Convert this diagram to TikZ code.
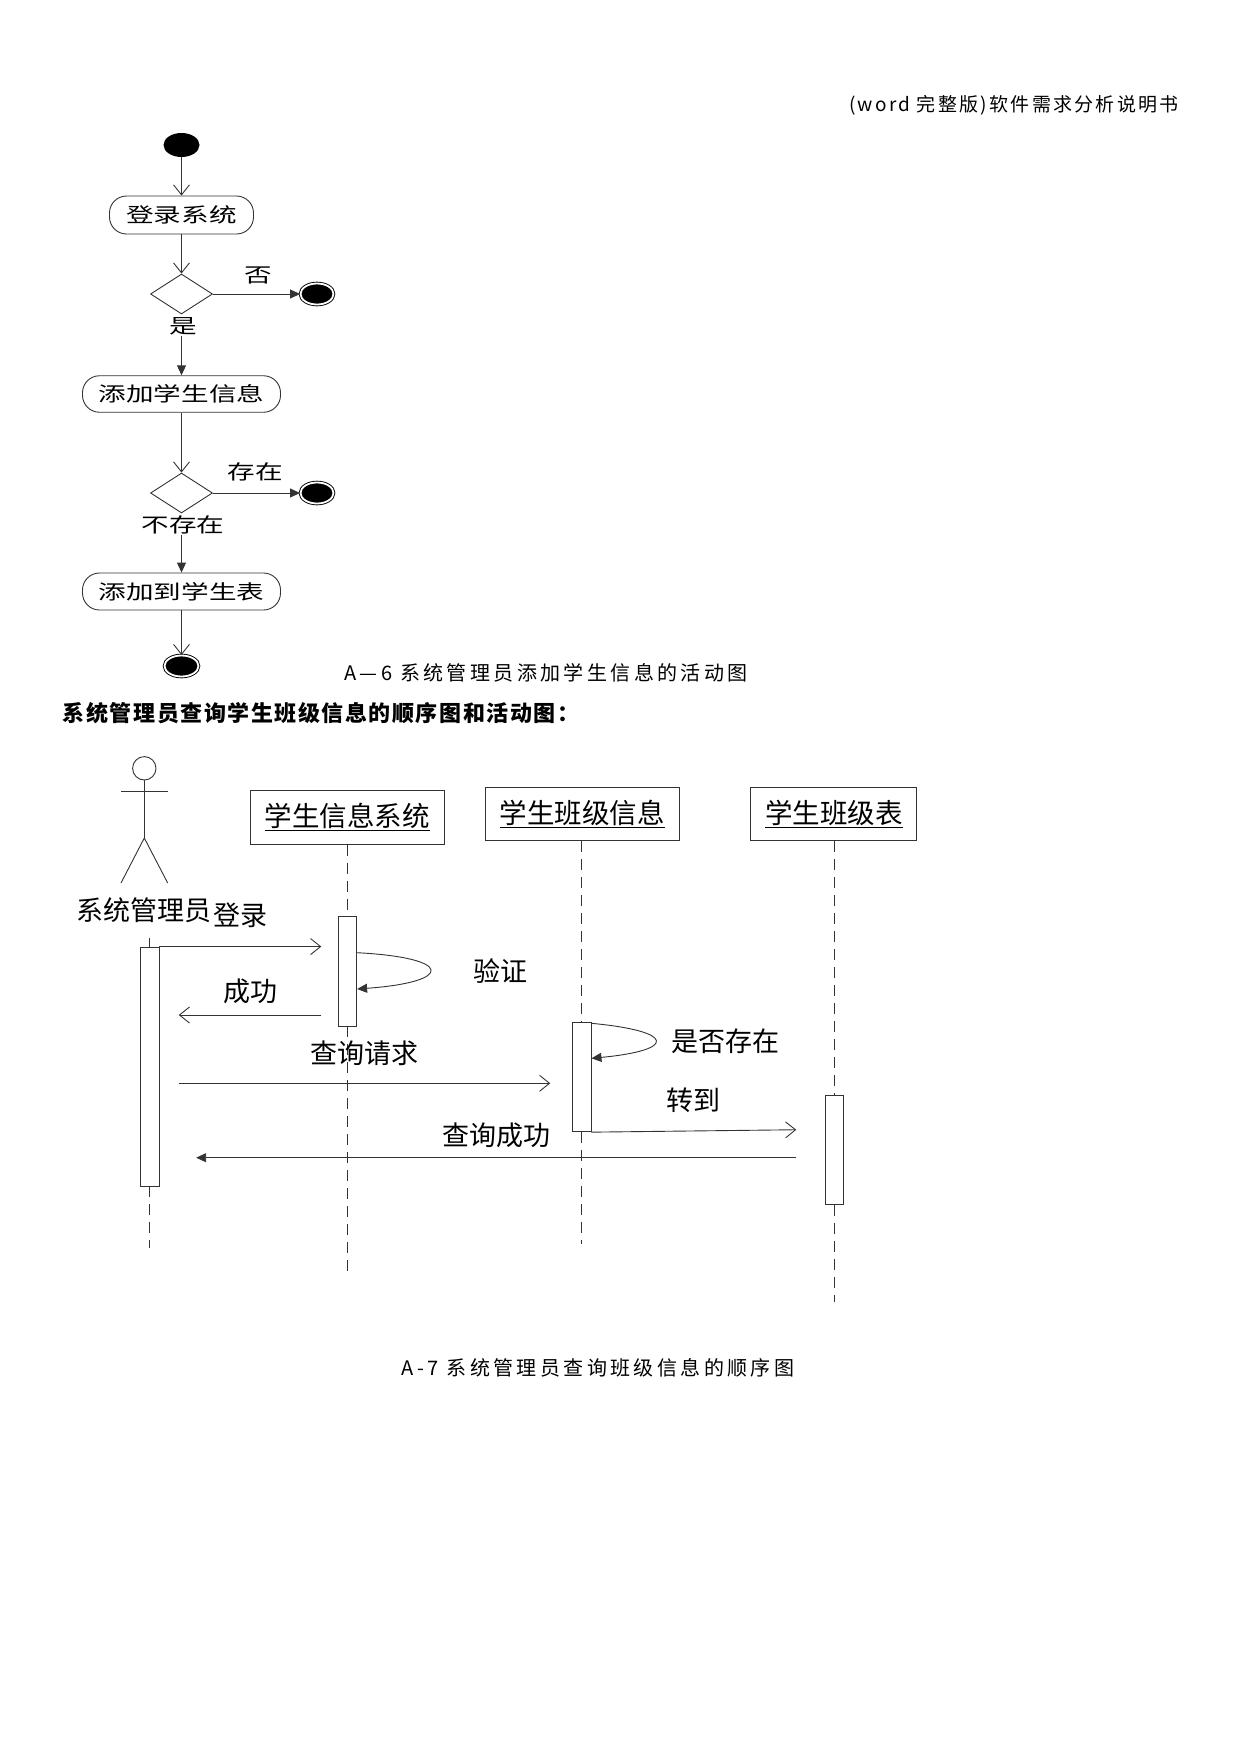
\documentclass[tikz,border=0pt]{standalone}
\usepackage{fontspec}
\usepackage{graphicx}
\setmainfont{Noto Sans CJK SC}
\newfontfamily\capfont[LetterSpace=17]{Noto Sans CJK SC}
\newfontfamily\hdfont[LetterSpace=12]{Noto Sans CJK SC}
\newfontfamily\ttlfont[LetterSpace=7]{Noto Sans CJK SC}
\usetikzlibrary{arrows.meta,shapes.geometric}
\newcommand{\actt}[1]{\scalebox{1.38}[1]{#1}}
\begin{document}
\begin{tikzpicture}[x=1bp,y=-1bp,
  ln/.style={line width=0.9bp, draw=black!80},
  oarr/.style={ln, -{Straight Barb[length=10bp,width=16bp,line width=0.9bp]}},
  farr/.style={ln, -{Triangle[length=10bp,width=9bp]}},
  abox/.style={ln, rounded corners=17bp, inner sep=0pt, font=\fontsize{20bp}{22bp}\selectfont},
  albl/.style={inner sep=1bp, font=\fontsize{20bp}{22bp}\selectfont},
  dia/.style={ln, diamond, minimum width=62bp, minimum height=40bp, inner sep=0pt},
  fin/.style={ellipse, fill=black, draw=black, line width=0.9bp, double=white, double distance=1.8bp, minimum width=33bp, minimum height=21bp, inner sep=0pt},
  capstyle/.style={font=\capfont\fontsize{20bp}{22bp}\selectfont},
  sq/.style={inner sep=1bp, font=\fontsize{27bp}{29bp}\selectfont},
  obj/.style={ln, rectangle, inner sep=0pt, font=\fontsize{27.5bp}{30bp}\selectfont},
  actv/.style={ln, rectangle, fill=white, minimum width=18.3bp, inner sep=0pt},
  life/.style={ln, dash pattern=on 11bp off 7bp}
]
\fill[white] (0,0) rectangle (1241,1754);
\useasboundingbox (0,0) rectangle (1241,1754);

% header
\node[font=\hdfont\fontsize{19bp}{20bp}\selectfont] (hdr) at (1014,105) {(word 完整版)软件需求分析说明书};

% ---------- activity diagram ----------
\node[ellipse, fill=black, minimum width=36bp, minimum height=24bp, inner sep=0pt] (st) at (181.5,145) {};
\node[abox, draw, minimum width=144bp, minimum height=38bp] (a1) at (181.5,215) {\actt{登录系统}};
\node[dia, draw] (d1) at (181.5,294) {};
\node[fin] (f1) at (317,294) {};
\node[albl] (no) at (258,275) {\actt{否}};
\node[albl] (yes) at (183,326) {\actt{是}};
\node[abox, draw, minimum width=198bp, minimum height=36.5bp] (a2) at (181.5,394) {\actt{添加学生信息}};
\node[dia, draw] (d2) at (181.5,493) {};
\node[fin] (f2) at (317,493) {};
\node[albl] (ex) at (255,472) {\actt{存在}};
\node[albl] (nex) at (183,525) {\actt{不存在}};
\node[abox, draw, minimum width=198bp, minimum height=37bp] (a3) at (181.5,591.5) {\actt{添加到学生表}};
\node[fin, minimum width=34bp] (f3) at (181.5,666) {};

\draw[oarr] (st) -- (a1);
\draw[oarr] (a1) -- (d1);
\draw[farr] (d1) -- (f1);
\draw[farr] (yes.south -| a2) -- (a2);
\draw[oarr] (a2) -- (d2);
\draw[farr] (d2) -- (f2);
\draw[farr] (nex.south -| a3) -- (a3);
\draw[oarr] (a3) -- (f3);

\node[capstyle] (c6) at (546,673.3) {A—6 系统管理员添加学生信息的活动图};

\node[anchor=west, inner sep=0pt, font=\ttlfont\bfseries\fontsize{22bp}{24bp}\selectfont] (sec) at (62.7,713.3) {系统管理员查询学生班级信息的顺序图和活动图：};

% ---------- sequence diagram ----------
% actor
\node[ln, draw, circle, minimum size=23.4bp, inner sep=0pt] (head) at (144.3,768.3) {};
\coordinate (hip) at (144.3,838);
\coordinate (arml) at (121,791);
\coordinate (armr) at (167.7,791);
\coordinate (legl) at (121,883);
\coordinate (legr) at (167.7,883);
\draw[ln] (head.south) -- (hip);
\draw[ln] (arml) -- (armr);
\draw[ln] (legl) -- (hip) -- (legr);
\node[sq] (actl) at (144,910) {系统管理员};

% objects
\node[obj, draw, minimum width=194.3bp, minimum height=53.3bp] (L1) at (347.2,817.4) {\underline{学生信息系统}};
\node[obj, draw, minimum width=194bp, minimum height=53bp] (L2) at (582,814.2) {\underline{学生班级信息}};
\node[obj, draw, minimum width=166bp, minimum height=53bp] (L3) at (833.8,814.2) {\underline{学生班级表}};

% activations
\node[actv, draw, minimum height=239bp] (A0) at (149.85,1066.5) {};
\node[actv, draw, minimum height=109.3bp] (A1) at (347.5,971.35) {};
\node[actv, draw, minimum height=109bp] (A2) at (581.85,1077.2) {};
\node[actv, draw, minimum height=108.6bp] (A3) at (834.15,1150) {};

% lifelines
\coordinate (l0s) at (149.85,938);
\coordinate (l0e) at (149.85,1248.3);
\coordinate (l1e) at (347.5,1272.7);
\coordinate (l2e) at (581.85,1244);
\coordinate (l3e) at (834.15,1301.7);
\draw[life] (l0s) -- (A0.north);
\draw[life] (A0.south) -- (l0e);
\draw[life] (L1.south -| A1) -- (A1.north);
\draw[life] (A1.south) -- (l1e);
\draw[life] (L2.south -| A2) -- (A2.north);
\draw[life] (A2.south) -- (l2e);
\draw[life] (L3.south -| A3) -- (A3.north);
\draw[life] (A3.south) -- (l3e);

% messages
\draw[oarr, shorten >=16.6bp] (A0.north east) -- (A0.north east -| A1.west);
\node[sq] (m1) at (240,915) {登录};
\draw[farr] (A1.east |- 0,952.7) .. controls +(97,5) and +(97,-7) .. (A1.east |- 0,989);
\node[sq] (m2) at (500,971) {验证};
\draw[oarr, shorten <=16.6bp, shorten >=19.3bp] (A1.west |- 0,1015) -- (A0.east |- 0,1015);
\node[sq] (m3) at (250,991.7) {成功};
\draw[oarr, shorten <=19.3bp, shorten >=22bp] (A0.east |- 0,1083.3) -- (A2.west |- 0,1083.3);
\node[sq] (m4) at (364.3,1053.3) {查询请求};
\draw[farr] (A2.east |- 0,1023.3) .. controls +(85,8) and +(85,-8) .. (A2.east |- 0,1058.3);
\node[sq] (m5) at (725,1041.7) {是否存在};
\draw[oarr, shorten >=28.3bp] (A2.south east) -- (A3.west |- 0,1129.4);
\node[sq] (m6) at (693.3,1100) {转到};
\draw[farr, shorten <=28.3bp, shorten >=36.7bp] (A3.west |- 0,1157.7) -- (A0.east |- 0,1157.7);
\node[sq] (m7) at (496.7,1135) {查询成功};

\node[capstyle] (c7) at (598,1368.3) {A-7 系统管理员查询班级信息的顺序图};
\end{tikzpicture}
\end{document}
